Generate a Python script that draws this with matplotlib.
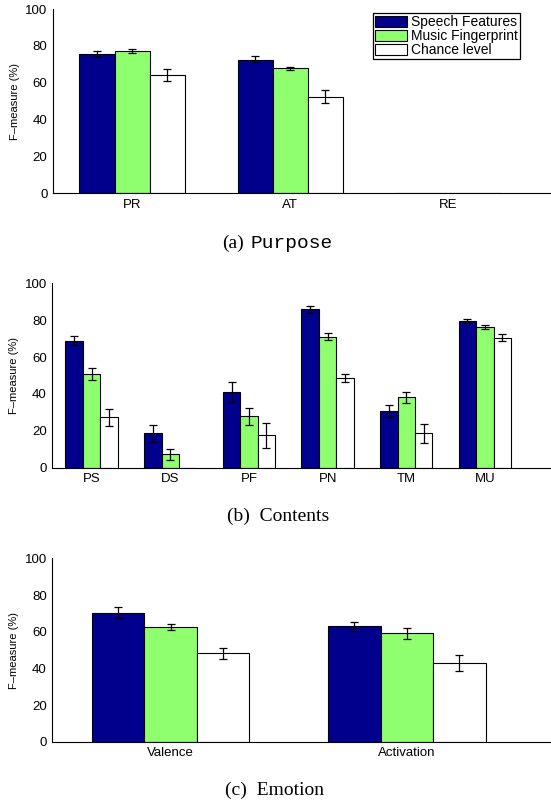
import numpy as np
import matplotlib
matplotlib.use("Agg")
import matplotlib.pyplot as plt

plt.rcParams["font.family"] = ["Liberation Sans", "DejaVu Sans"]

series = ["Speech Features", "Music Fingerprint", "Chance level"]
colors = ["#00008C", "#8FFF70", "#FFFFFF"]

# (a) Purpose
purpose_cats = ["PR", "AT", "RE"]
purpose_vals = [
    [75.5, 72.4, 0.0],   # speech
    [77.1, 67.7, 0.0],   # music
    [64.1, 52.3, 0.0],   # chance
]
purpose_err = [
    [1.7, 2.0, np.nan],
    [1.0, 0.8, np.nan],
    [3.4, 3.5, np.nan],
]

# (b) Contents
contents_cats = ["PS", "DS", "PF", "PN", "TM", "MU"]
contents_vals = [
    [68.9, 18.6, 41.0, 85.9, 30.9, 79.7],
    [51.0, 7.2, 27.8, 71.1, 38.2, 76.5],
    [27.3, 0.0, 17.5, 48.6, 18.6, 70.5],
]
contents_err = [
    [2.4, 4.5, 5.4, 1.9, 3.3, 1.0],
    [3.3, 3.1, 4.5, 2.0, 3.0, 1.1],
    [4.7, np.nan, 6.8, 2.0, 5.3, 1.8],
]

# (c) Emotion
emotion_cats = ["Valence", "Activation"]
emotion_vals = [
    [70.5, 63.1],
    [62.7, 59.1],
    [48.4, 42.9],
]
emotion_err = [
    [3.1, 2.5],
    [1.5, 3.1],
    [3.0, 4.5],
]


def draw_panel(ax, cats, vals, errs, xmax):
    x = np.arange(1, len(cats) + 1)
    w = 0.222
    for i, (v, e) in enumerate(zip(vals, errs)):
        pos = x + (i - 1) * w
        ax.bar(pos, v, width=w, color=colors[i], edgecolor="black",
               linewidth=0.8, label=series[i], zorder=2)
        ax.errorbar(pos, v, yerr=e, fmt="none", ecolor="black",
                    elinewidth=0.9, capsize=3, capthick=0.9, zorder=3)
    ax.set_xlim(0.5, xmax)
    ax.set_ylim(0, 100)
    ax.set_yticks([0, 20, 40, 60, 80, 100])
    ax.set_xticks(x)
    ax.set_xticklabels(cats)
    ax.spines["top"].set_visible(False)
    ax.spines["right"].set_visible(False)
    ax.spines["left"].set_linewidth(0.8)
    ax.spines["bottom"].set_linewidth(0.8)
    ax.tick_params(axis="both", direction="in", length=0, labelsize=9.5, pad=4)
    ax.set_ylabel("F\u2013measure (%)", fontsize=8, labelpad=4)


fig = plt.figure(figsize=(5.51, 8.0), dpi=100)

ax_a = fig.add_axes([0.0962, 0.75875, 0.9038, 0.23])
draw_panel(ax_a, purpose_cats, purpose_vals, purpose_err, 3.65)
leg = ax_a.legend(loc="upper right", bbox_to_anchor=(0.938, 0.978),
                  borderaxespad=0, fancybox=False, edgecolor="black",
                  fontsize=10, handlelength=2.3, handleheight=0.8,
                  labelspacing=0.0, handletextpad=0.3, borderpad=0.15,
                  framealpha=1)
leg.get_frame().set_linewidth(0.9)

ax_b = fig.add_axes([0.095, 0.4154, 0.905, 0.2305])
draw_panel(ax_b, contents_cats, contents_vals, contents_err, 6.84)

ax_c = fig.add_axes([0.095, 0.0729, 0.905, 0.229])
draw_panel(ax_c, emotion_cats, emotion_vals, emotion_err, 2.61)

# captions
fig.text(0.442, 1 - 243 / 800, "(a)", ha="right", va="center",
         fontsize=14, family="Liberation Serif")
fig.text(0.455, 1 - 243 / 800, "Purpose", ha="left", va="center",
         fontsize=14, family="Liberation Mono")
fig.text(0.505, 1 - 516 / 800, "(b)  Contents", ha="center", va="center",
         fontsize=14, family="Liberation Serif")
fig.text(0.499, 1 - 790 / 800, "(c)  Emotion", ha="center", va="center",
         fontsize=14, family="Liberation Serif")

fig.savefig("out.png", dpi=100)
